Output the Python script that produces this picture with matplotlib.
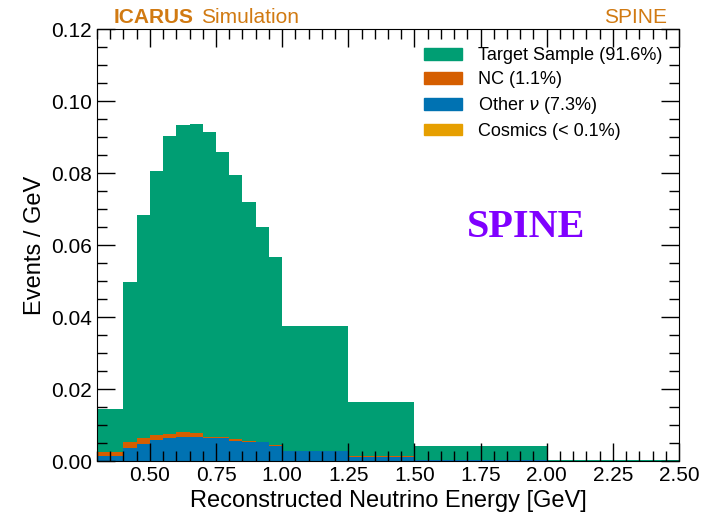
import matplotlib
matplotlib.use("Agg")
import matplotlib.pyplot as plt
from matplotlib.ticker import MultipleLocator
from matplotlib.patches import Patch

plt.rcParams['font.family'] = ['Liberation Sans', 'DejaVu Sans']

# bin edges (GeV)
edges = [0.3, 0.4, 0.45, 0.5, 0.55, 0.6, 0.65, 0.7, 0.75, 0.8, 0.85, 0.9,
         0.95, 1.0, 1.25, 1.5, 2.0, 2.5]

# events / GeV per component
other_nu = [0.0015, 0.0036, 0.0047, 0.0057, 0.0063, 0.0066, 0.0066, 0.0064,
            0.0064, 0.0056, 0.0053, 0.0053, 0.0042, 0.0028, 0.0012, 0.0002, 0.0]
nc = [0.0009, 0.0017, 0.0017, 0.0015, 0.0013, 0.0014, 0.0011, 0.0004,
      0.0003, 0.0006, 0.0002, 0.0001, 0.0003, 0.0001, 0.0001, 0.0, 0.0]
cosmics = [0.0, 0.0, 0.0, 0.0, 0.0, 0.0, 0.0, 0.0,
           0.0, 0.0, 0.0, 0.0, 0.0, 0.0, 0.0, 0.0, 0.0]
target = [0.0120, 0.0443, 0.0618, 0.0733, 0.0828, 0.0853, 0.0859, 0.0846,
          0.0792, 0.0733, 0.0664, 0.0597, 0.0523, 0.0346, 0.0150, 0.0039, 0.0002]

labels = ["Other $\\nu$ (7.3%)", "NC (1.1%)", "Cosmics (< 0.1%)", "Target Sample (91.6%)"]
colors = ["#0072B2", "#D55E00", "#E69F00", "#009E73"]

centers = [(edges[i] + edges[i + 1]) / 2 for i in range(len(edges) - 1)]

fig = plt.figure(figsize=(7.08, 5.18), dpi=100)
ax = fig.add_axes([0.137, 0.11, 0.822, 0.834])

ax.hist([centers] * 4, bins=edges, weights=[other_nu, nc, cosmics, target],
        stacked=True, histtype='stepfilled', color=colors, label=labels)

ax.set_xlim(0.3, 2.5)
ax.set_ylim(0, 0.12)
ax.xaxis.set_major_locator(MultipleLocator(0.25))
ax.xaxis.set_minor_locator(MultipleLocator(0.05))
ax.yaxis.set_major_locator(MultipleLocator(0.02))
ax.yaxis.set_minor_locator(MultipleLocator(0.005))
ax.xaxis.set_major_formatter(plt.FormatStrFormatter('%.2f'))
ax.yaxis.set_major_formatter(plt.FormatStrFormatter('%.2f'))
ax.tick_params(which='both', direction='in', top=True, right=True, labelsize=15)
ax.tick_params(which='major', length=13, width=1)
ax.tick_params(which='minor', length=7, width=1)
ax.set_axisbelow(False)

ax.set_xlabel("Reconstructed Neutrino Energy [GeV]", fontsize=17)
ax.set_ylabel("Events / GeV", fontsize=17)

handles = [Patch(color=colors[3]), Patch(color=colors[1]),
           Patch(color=colors[0]), Patch(color=colors[2])]
leg_labels = [labels[3], labels[1], labels[0], labels[2]]
ax.legend(handles, leg_labels, loc='upper right', frameon=False, fontsize=13,
          handlelength=2.1, handleheight=0.6, labelspacing=0.38,
          handletextpad=0.9, bbox_to_anchor=(1.0, 0.995))

ax.text(0.028, 1.005, "ICARUS", transform=ax.transAxes, fontsize=15,
        fontweight='bold', color='#D17A12', ha='left', va='bottom')
ax.text(0.178, 1.005, "Simulation", transform=ax.transAxes, fontsize=15,
        color='#D17A12', ha='left', va='bottom')
ax.text(0.98, 1.005, "SPINE", transform=ax.transAxes, fontsize=15,
        color='#D17A12', ha='right', va='bottom')
ax.text(0.738, 0.54, "SPINE", transform=ax.transAxes, fontsize=29,
        fontweight='bold', family='Liberation Serif', color='#8000FF',
        ha='center', va='center')

fig.savefig("out.png", dpi=100)
